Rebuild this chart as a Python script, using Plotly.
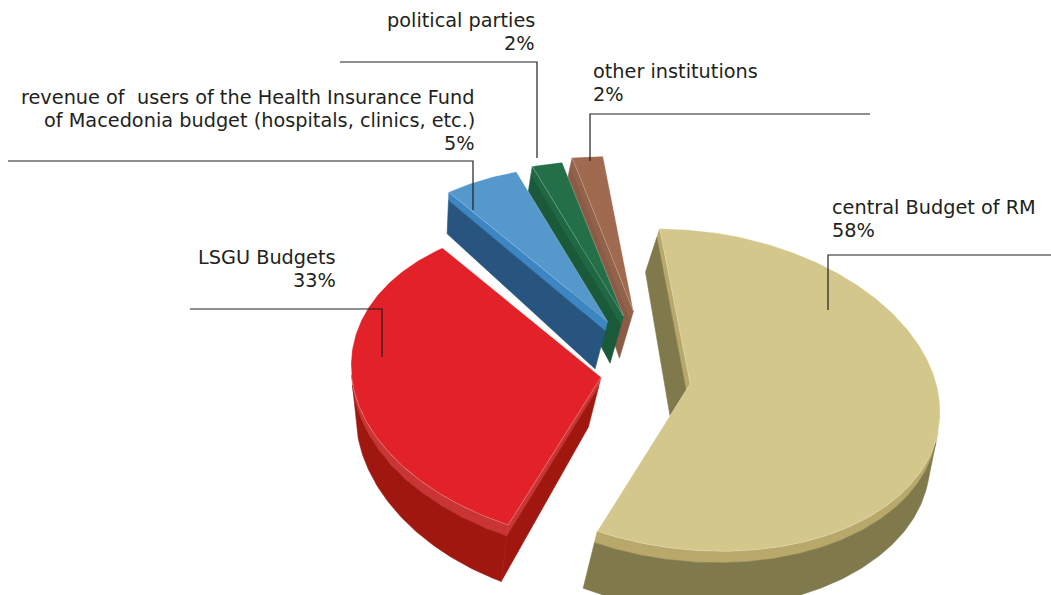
import math
import plotly.graph_objects as go

# ---------------- data ----------------
categories = [
    "central Budget of RM",
    "LSGU Budgets",
    "revenue of users of the Health Insurance Fund of Macedonia budget (hospitals, clinics, etc.)",
    "political parties",
    "other institutions",
]
shares = [58, 33, 5, 2, 2]
label_lines = [
    ["central Budget of RM"],
    ["LSGU Budgets"],
    ["revenue of\u00a0 users of the Health Insurance Fund",
     "of Macedonia budget (hospitals, clinics, etc.)"],
    ["political parties"],
    ["other institutions"],
]

# ---------------- style ----------------
top_colors = ["#d3c78b", "#e22228", "#5598cc", "#236f48", "#9f6a4f"]
bevel_colors = ["#b8a96a", "#c93535", "#3c86c4", "#1f6844", "#93624a"]
side_colors = ["#7f794b", "#a0170f", "#28557f", "#1a5a3a", "#8b5c45"]
pulls = [0.18, 0.18, 0.33, 0.34, 0.36]

CX, CY = 641, 383          # pie centre (px)
RX, RY = 250, 160          # ellipse half-axes of the tilted pie
TILT, SAG, PERSP = 20, 8, 0.04
RAISE = (25, -45)          # exploded slices also rise toward the back
START = -7                 # first slice starts just left of 12 o'clock
BEVEL = 0.2                # share of the wall drawn as a lighter chamfer

TEXT_COLOR = "#231f20"
FONT = dict(family="DejaVu Sans, sans-serif", size=19.3, color=TEXT_COLOR)
LINE_H = 23

label_layout = [
    dict(x=832, y=207, side="left", leader=[(1051, 255), (828, 255), (828, 310)]),
    dict(x=336, y=257, side="right", leader=[(190, 309), (382, 309), (382, 357)]),
    dict(x=475, y=97, side="right", leader=[(8, 161), (473, 161), (473, 210)]),
    dict(x=535, y=20, side="right", leader=[(340, 62), (537, 62), (537, 158)]),
    dict(x=593, y=71, side="left", leader=[(870, 114), (590, 114), (590, 161)]),
]


def ellipse_vec(theta, r=1.0):
    a = math.radians(theta)
    s, k = math.sin(a), math.cos(a)
    return r * RX * s, r * (TILT * s + SAG * s * s - RY * k * (1 - PERSP * k))


def extrusion(x, y):
    """Screen vector from a top-face point down to the matching bottom point."""
    h = 50 + 0.045 * (y - 380)
    fade = min(1.0, max(0.25, 1 - (x - 650) / 400))
    return -0.07 * (x - 420) * fade * h / 50, h


def cross(ax, ay, bx, by):
    return ax * by - ay * bx


def poly(fig, xs, ys, color):
    fig.add_trace(go.Scatter(
        x=xs + [xs[0]], y=ys + [ys[0]], mode="lines", fill="toself",
        fillcolor=color, line=dict(color=color, width=0.6),
        hoverinfo="skip", showlegend=False))


def wall(fig, pts, bevel_c, side_c):
    """pts: top edge points in order; draws chamfer strip + dark wall below them."""
    mid, bot = [], []
    for (x, y) in pts:
        ex, ey = extrusion(x, y)
        mid.append((x + BEVEL * ex, y + BEVEL * ey))
        bot.append((x + ex, y + ey))
    band = pts + mid[::-1]
    poly(fig, [p[0] for p in band], [p[1] for p in band], bevel_c)
    low = mid + bot[::-1]
    poly(fig, [p[0] for p in low], [p[1] for p in low], side_c)


def facing(ax, ay, bx, by, ix, iy):
    mx, my = (ax + bx) / 2, (ay + by) / 2
    ex, ey = extrusion(mx, my)
    c1 = cross(bx - ax, by - ay, ix - ax, iy - ay)
    c2 = cross(bx - ax, by - ay, ex, ey)
    return c1 * c2 < 0


total = float(sum(shares))
slices = []
angle = START
for i, v in enumerate(shares):
    span = 360.0 * v / total
    a0, a1 = angle, angle + span
    am = (a0 + a1) / 2
    dx, dy = ellipse_vec(am, pulls[i])
    dx += pulls[i] * RAISE[0]
    dy += pulls[i] * RAISE[1]
    slices.append(dict(i=i, a0=a0, a1=a1, am=am, ox=CX + dx, oy=CY + dy))
    angle = a1

fig = go.Figure()

# paint from the back of the pie to the front
order = sorted(slices, key=lambda s: -math.cos(math.radians(s["am"])))
for s in order:
    i, a0, a1, ox, oy = s["i"], s["a0"], s["a1"], s["ox"], s["oy"]

    def P(t, r=1.0, ox=ox, oy=oy):
        vx, vy = ellipse_vec(t, r)
        return ox + vx, oy + vy

    n = max(3, int(abs(a1 - a0) / 0.75))
    thetas = [a0 + (a1 - a0) * j / n for j in range(n + 1)]
    arc = [P(t) for t in thetas]

    # radial faces
    half = min(10, (a1 - a0) / 2)
    for edge_t, inner_t in ((a0, a0 + half), (a1, a1 - half)):
        bx, by = P(edge_t)
        ix, iy = P(inner_t, 0.5)
        if facing(ox, oy, bx, by, ix, iy):
            wall(fig, [(ox, oy), (bx, by)], bevel_colors[i], side_colors[i])

    # outer rim: keep runs of front-facing segments
    runs, cur = [], []
    for j in range(n):
        (ax, ay), (bx, by) = arc[j], arc[j + 1]
        if facing(ax, ay, bx, by, ox, oy):
            if not cur:
                cur = [arc[j]]
            cur.append(arc[j + 1])
        else:
            if cur:
                runs.append(cur)
            cur = []
    if cur:
        runs.append(cur)
    for run in runs:
        wall(fig, run, bevel_colors[i], side_colors[i])

    # top face
    top = [(ox, oy)] + arc
    fig.add_trace(go.Scatter(
        x=[p[0] for p in top] + [ox], y=[p[1] for p in top] + [oy],
        mode="lines", fill="toself", fillcolor=top_colors[i],
        line=dict(color="rgba(255,255,255,0.35)", width=0.7),
        hoverinfo="skip", showlegend=False, name=categories[i]))

# labels and leader lines
annotations = []
shapes = []
for i, lay in enumerate(label_layout):
    lines = label_lines[i] + [f"{shares[i]}%"]
    for j, txt in enumerate(lines):
        annotations.append(dict(
            x=lay["x"], y=lay["y"] + j * LINE_H, xref="x", yref="y",
            text=txt, showarrow=False, font=FONT, borderpad=0, borderwidth=0,
            xanchor="left" if lay["side"] == "left" else "right", yanchor="middle"))
    path = "M " + " L ".join(f"{x},{y}" for x, y in lay["leader"])
    shapes.append(dict(type="path", path=path, xref="x", yref="y",
                       line=dict(color=TEXT_COLOR, width=1.2)))

fig.update_layout(
    width=1051, height=595,
    margin=dict(l=0, r=0, t=0, b=0),
    paper_bgcolor="white", plot_bgcolor="white",
    xaxis=dict(range=[0, 1051], visible=False, fixedrange=True),
    yaxis=dict(range=[595, 0], visible=False, fixedrange=True),
    annotations=annotations, shapes=shapes,
    showlegend=False,
)

fig.write_html("out.html")
